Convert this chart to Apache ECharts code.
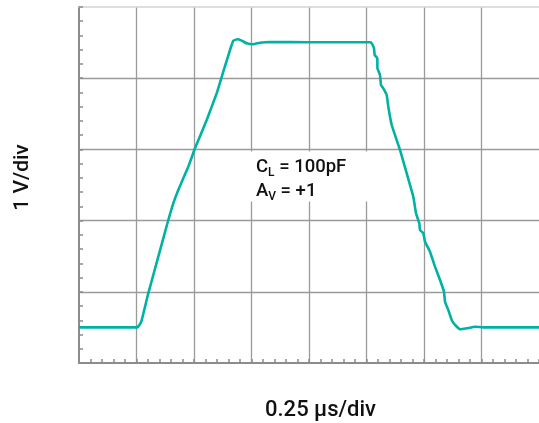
<!DOCTYPE html>
<html>
<head>
<meta charset="utf-8">
<script src="https://cdn.jsdelivr.net/npm/echarts@6/dist/echarts.min.js"></script>
<style>
html,body{margin:0;padding:0;background:#fff;}
#chart{width:539px;height:423px;}
</style>
</head>
<body>
<div id="chart"></div>
<script>
// Time axis (µs), 0.25 µs/div
const timeUs = [0, 0.2535, 0.262, 0.2726, 0.3013, 0.3448, 0.3883, 0.41, 0.4317, 0.4752, 0.5043, 0.5552, 0.5987, 0.6274, 0.6565, 0.6709, 0.6883, 0.7074, 0.7291, 0.7552, 0.787, 0.8304, 1.0043, 1.2683, 1.277, 1.2826, 1.2857, 1.297, 1.2975, 1.3087, 1.313, 1.323, 1.3378, 1.3448, 1.3596, 1.3957, 1.4535, 1.4652, 1.4796, 1.4826, 1.497, 1.5043, 1.5261, 1.5478, 1.5696, 1.587, 1.5913, 1.6057, 1.6204, 1.6348, 1.6565, 1.6857, 1.7217, 1.7578, 2.0];
// Output voltage (V), 1 V/div
const voltage = [0.50, 0.50, 0.53, 0.60, 0.979, 1.493, 2.008, 2.243, 2.43, 2.757, 3.015, 3.413, 3.788, 4.091, 4.396, 4.527, 4.546, 4.527, 4.490, 4.476, 4.499, 4.508, 4.504, 4.504, 4.466, 4.42, 4.326, 4.279, 4.139, 4.045, 3.904, 3.858, 3.764, 3.60, 3.343, 2.992, 2.336, 2.102, 1.962, 1.868, 1.822, 1.704, 1.563, 1.353, 1.166, 1.001, 0.861, 0.744, 0.604, 0.534, 0.473, 0.487, 0.51, 0.501, 0.50];
const xRange = [0, 2];
const xStep = 0.25;
const yRange = [0, 5];
const yStep = 1;
const xTitle = '0.25 µs/div';
const yTitle = '1 V/div';
const noteLines = [['C', 'L', ' = 100pF'], ['A', 'V', ' = +1']];

const points = timeUs.map((t, i) => [t, voltage[i]]);
const chart = echarts.init(document.getElementById('chart'), null, {renderer: 'canvas'});
const gridColor = '#9a9a9a';
const axisColor = '#8c8c8c';
const noteText = noteLines.map(l => '{n|' + l[0] + '}{s|' + l[1] + '}{n|' + l[2] + '}').join('\n');

chart.setOption({
  animation: false,
  backgroundColor: '#ffffff',
  grid: {left: 79, right: 0, top: 7, bottom: 60},
  xAxis: [{
    type: 'value', min: xRange[0], max: xRange[1], interval: xStep,
    axisLine: {show: true, onZero: false, lineStyle: {color: axisColor, width: 2}},
    axisTick: {show: true, inside: true, length: 4, lineStyle: {color: axisColor, width: 1.5}},
    minorTick: {show: true, splitNumber: 5, length: 4, lineStyle: {color: axisColor, width: 1.5}},
    axisLabel: {show: false},
    splitLine: {show: true, showMinLine: false, showMaxLine: false, lineStyle: {color: gridColor, width: 1.3}}
  }, {
    type: 'value', position: 'top', min: xRange[0], max: xRange[1],
    axisLine: {show: true, onZero: false, lineStyle: {color: '#d4d4d4', width: 1.5}},
    axisTick: {show: false}, axisLabel: {show: false}, splitLine: {show: false}
  }],
  yAxis: {
    type: 'value', min: yRange[0], max: yRange[1], interval: yStep,
    axisLine: {show: true, onZero: false, lineStyle: {color: axisColor, width: 2}},
    axisTick: {show: true, inside: true, length: 4, lineStyle: {color: axisColor, width: 1.5}},
    minorTick: {show: true, splitNumber: 5, length: 4, lineStyle: {color: axisColor, width: 1.5}},
    axisLabel: {show: false},
    splitLine: {show: true, showMinLine: false, showMaxLine: false, lineStyle: {color: gridColor, width: 1.3}}
  },
  series: [{
    type: 'line', data: points, showSymbol: false, smooth: 0.1,
    lineStyle: {color: '#00B2A4', width: 2.6}, z: 5
  }],
  graphic: [
    {type: 'rect', z: 50, shape: {x: 249, y: 151.5, width: 122, height: 50}, style: {fill: '#ffffff'}},
    {type: 'text', z: 51, x: 256, y: 155,
      style: {text: noteText, rich: {
        n: {font: '500 18.5px Roboto', fill: '#111111', lineHeight: 24, verticalAlign: 'middle'},
        s: {font: '500 12px Roboto', fill: '#111111', lineHeight: 13, verticalAlign: 'bottom'}
      }}},
    {type: 'text', z: 51, x: 320.5, y: 410,
      style: {text: xTitle, font: '500 22px Roboto', fill: '#111111', align: 'center', verticalAlign: 'middle'}},
    {type: 'text', z: 51, x: 22.5, y: 177.5, rotation: Math.PI / 2,
      style: {text: yTitle, font: '500 21px Roboto', fill: '#111111', align: 'center', verticalAlign: 'middle'}}
  ]
});
</script>
</body>
</html>
